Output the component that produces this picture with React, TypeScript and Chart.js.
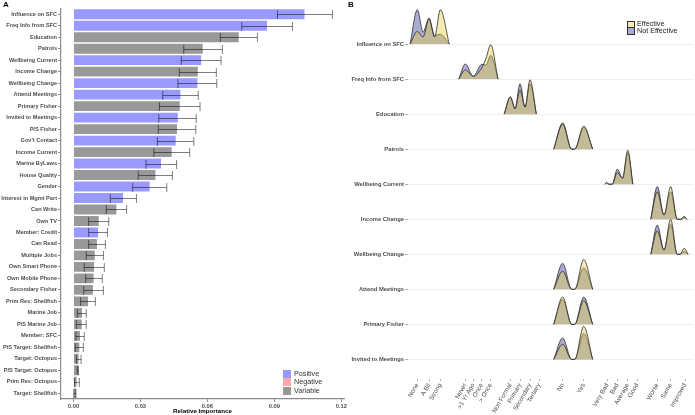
import React, { useEffect, useRef } from "react";
import { Chart, registerables } from "chart.js";
Chart.register(...registerables);
Chart.defaults.font.family = "'Liberation Sans', Arial, sans-serif";

// ---------- Panel A data ----------
const variables = [
  "Influence on SFC", "Freq Info from SFC", "Education", "Patrols", "Wellbeing Current",
  "Income Change", "Wellbeing Change", "Attend Meetings", "Primary Fisher", "Invited to Meetings",
  "P/S Fisher", "Gov't Contact", "Income Current", "Marine ByLaws", "House Quality", "Gender",
  "Interest in Mgmt Part", "Can Write", "Own TV", "Member: Credit", "Can Read", "Multiple Jobs",
  "Own Smart Phone", "Own Mobile Phone", "Secondary Fisher", "Prim Res: Shellfish", "Marine Job",
  "P/S Marine Job", "Member: SFC", "P/S Target: Shellfish", "Target: Octopus", "P/S Target: Octopus",
  "Prim Res: Octopus", "Target: Shellfish",
];
const importance = [
  0.1035, 0.0867, 0.074, 0.0579, 0.0572, 0.0557, 0.0555, 0.0479, 0.0476, 0.0467, 0.0464, 0.0458,
  0.044, 0.0392, 0.0367, 0.0341, 0.0222, 0.0192, 0.0113, 0.011, 0.0105, 0.0095, 0.0092, 0.009,
  0.0087, 0.0065, 0.0038, 0.0037, 0.0029, 0.0026, 0.0023, 0.0022, 0.0014, 0.0011,
];
const errLow = [
  0.0914, 0.0754, 0.0658, 0.0494, 0.0483, 0.0474, 0.0468, 0.04, 0.0385, 0.0382, 0.038, 0.0376,
  0.036, 0.0325, 0.029, 0.0265, 0.0165, 0.0147, 0.0068, 0.0068, 0.0068, 0.0057, 0.0048, 0.0055,
  0.0046, 0.0032, 0.0017, 0.0013, 0.0011, 0.0008, 0.0013, 0.0017, 0.0004, 0.0001,
];
const errHigh = [
  0.116, 0.0981, 0.0824, 0.0667, 0.0661, 0.064, 0.0642, 0.0559, 0.0567, 0.055, 0.0548, 0.0539,
  0.0521, 0.0462, 0.0443, 0.0418, 0.0282, 0.0238, 0.0158, 0.0152, 0.0143, 0.0134, 0.0138, 0.0129,
  0.0134, 0.0098, 0.0057, 0.0057, 0.0048, 0.0044, 0.0034, 0.0022, 0.0026, 0.0011,
];
const direction = [
  "Positive", "Positive", "Variable", "Variable", "Positive", "Variable", "Positive", "Positive",
  "Variable", "Positive", "Variable", "Positive", "Variable", "Positive", "Variable", "Positive",
  "Positive", "Variable", "Variable", "Positive", "Variable", "Variable", "Variable", "Variable",
  "Variable", "Variable", "Variable", "Variable", "Variable", "Variable", "Variable", "Variable",
  "Variable", "Variable",
];
const xTicksA = [0, 0.03, 0.06, 0.09, 0.12];
const legendA = ["Positive", "Negative", "Variable"];
const colorsA: Record<string, string> = { Positive: "#9999FF", Negative: "#FFAAAA", Variable: "#999999" };

// ---------- Panel B data ----------
const xTickLabelsB = [
  "None", "A Bit", "Strong", "Never", ">1 Yr Ago", "Once", "> Once", "Non Formal", "Primary",
  "Secondary", "Tertiary", "No", "Yes", "Very Bad", "Bad", "Average", "Good", "Worse", "Same", "Improved",
];
const xTickPosB = [
  1, 2.02, 3, 5.17, 5.87, 6.6, 7.38, 9.09, 9.93, 10.8, 11.6, 13.64, 15.47, 17.52, 18.39, 19.3,
  20.13, 21.87, 23.03, 24.28,
];
const ridgeRows = [
  "Influence on SFC", "Freq Info from SFC", "Education", "Patrols", "Wellbeing Current",
  "Income Change", "Wellbeing Change", "Attend Meetings", "Primary Fisher", "Invited to Meetings",
];
const influenceX = [0.37, 1, 1.5, 2.02, 2.5, 3, 3.78];
const influenceEff = [0, 0.36, 0.2, 0.72, 0.2, 0.98, 0];
const influenceNot = [0, 0.98, 0.34, 0.74, 0.25, 0.28, 0];
const freqX = [4.6, 5.17, 5.87, 6.6, 6.98, 7.38, 8.02];
const freqEff = [0, 0.26, 0.08, 0.32, 0.6, 0.98, 0];
const freqNot = [0, 0.43, 0.08, 0.42, 0.4, 0.68, 0];
const educationX = [8.55, 9.09, 9.5, 9.93, 10.37, 10.8, 11.35];
const educationEff = [0, 0.49, 0.15, 0.68, 0.2, 0.98, 0];
const educationNot = [0, 0.49, 0.16, 0.87, 0.2, 0.87, 0];
const yesNoX = [12.86, 13.64, 14.42, 14.69, 15.47, 16.25];
const patrolsEff = [0, 0.71, 0, 0, 0.66, 0];
const patrolsNot = [0, 0.75, 0, 0, 0.62, 0];
const wellCurX = [17.3, 17.47, 17.64, 17.95, 18.39, 18.85, 19.3, 19.74];
const wellCurEff = [0, 0.05, 0, 0, 0.33, 0.17, 0.97, 0];
const wellCurNot = [0, 0.05, 0, 0, 0.43, 0.17, 0.9, 0];
const incChX = [21.3, 21.87, 22.45, 23.03, 23.6, 23.95, 24.2, 24.45];
const incChEff = [0, 0.78, 0.12, 0.93, 0, 0, 0.08, 0];
const incChNot = [0, 0.93, 0.12, 0.78, 0, 0, 0.07, 0];
const wellChX = [21.3, 21.87, 22.45, 23.03, 23.6, 23.85, 24.2, 24.55];
const wellChEff = [0, 0.67, 0.12, 1.0, 0, 0, 0.17, 0];
const wellChNot = [0, 0.83, 0.12, 0.86, 0, 0, 0.08, 0];
const attendEff = [0, 0.52, 0, 0, 0.85, 0];
const attendNot = [0, 0.74, 0, 0, 0.61, 0];
const primaryEff = [0, 0.78, 0, 0, 0.68, 0];
const primaryNot = [0, 0.71, 0, 0, 0.78, 0];
const invitedEff = [0, 0.43, 0, 0, 0.94, 0];
const invitedNot = [0, 0.61, 0, 0, 0.74, 0];

const ridges = [
  { x: influenceX, eff: influenceEff, not: influenceNot },
  { x: freqX, eff: freqEff, not: freqNot },
  { x: educationX, eff: educationEff, not: educationNot },
  { x: yesNoX, eff: patrolsEff, not: patrolsNot },
  { x: wellCurX, eff: wellCurEff, not: wellCurNot },
  { x: incChX, eff: incChEff, not: incChNot },
  { x: wellChX, eff: wellChEff, not: wellChNot },
  { x: yesNoX, eff: attendEff, not: attendNot },
  { x: yesNoX, eff: primaryEff, not: primaryNot },
  { x: yesNoX, eff: invitedEff, not: invitedNot },
];
const legendB = ["Effective", "Not Effective"];
const colorsB: Record<string, string> = {
  Effective: "rgba(228, 208, 70, 0.42)",
  "Not Effective": "rgba(45, 45, 145, 0.4)",
};

const FONT = "'Liberation Sans', Arial, sans-serif";
const AXIS_GREY = "#8C8C8C";

const errorBarPlugin = {
  id: "errorBars",
  afterDatasetsDraw(chart: any) {
    const { ctx } = chart;
    const xs = chart.scales.x;
    const ys = chart.scales.y;
    ctx.save();
    ctx.strokeStyle = "rgba(0,0,0,0.5)";
    ctx.lineWidth = 1;
    for (let i = 0; i < importance.length; i++) {
      const y = Math.round(ys.getPixelForValue(i)) + 0.5;
      const x1 = xs.getPixelForValue(errLow[i]);
      const x2 = xs.getPixelForValue(errHigh[i]);
      ctx.beginPath();
      ctx.moveTo(x1, y);
      ctx.lineTo(x2, y);
      ctx.moveTo(x1, y - 4.5);
      ctx.lineTo(x1, y + 4.5);
      ctx.moveTo(x2, y - 4.5);
      ctx.lineTo(x2, y + 4.5);
      ctx.stroke();
    }
    ctx.restore();
  },
};

function PanelA() {
  const ref = useRef<HTMLCanvasElement>(null);
  useEffect(() => {
    const chart = new Chart(ref.current!, {
      type: "bar",
      data: {
        labels: variables,
        datasets: [
          {
            data: importance,
            backgroundColor: direction.map((d) => colorsA[d]),
            barPercentage: 0.86,
            categoryPercentage: 1,
          },
        ],
      },
      options: {
        indexAxis: "y",
        animation: false,
        responsive: false,
        maintainAspectRatio: false,
        layout: { padding: { top: 8.5, right: 11, bottom: 0, left: 0 } },
        plugins: { legend: { display: false }, tooltip: { enabled: false } },
        scales: {
          y: {
            type: "category",
            offset: true,
            grid: { display: true, drawOnChartArea: false, offset: false, tickLength: 3, color: AXIS_GREY },
            border: { display: true, color: AXIS_GREY, width: 1.2 },
            ticks: { autoSkip: false, padding: 1, color: "#4D4D4D", font: { size: 5.6, weight: "bold", family: FONT } },
            afterFit: (s: any) => { s.width = 61; },
          },
          x: {
            type: "linear",
            min: -0.0056,
            max: 0.1212,
            afterBuildTicks: (s: any) => { s.ticks = xTicksA.map((v) => ({ value: v })); },
            ticks: { callback: (v: any) => Number(v).toFixed(2), padding: 1, color: "#4D4D4D", font: { size: 5.8, weight: "bold", family: FONT } },
            grid: { display: true, drawOnChartArea: false, tickLength: 3, color: AXIS_GREY },
            border: { display: true, color: AXIS_GREY, width: 1.2 },
            title: { display: true, text: "Relative Importance", color: "#000", padding: 0, font: { size: 6.2, weight: "bold", family: FONT } },
            afterFit: (s: any) => { s.height = 16; },
          },
        },
      } as any,
      plugins: [errorBarPlugin],
    });
    return () => chart.destroy();
  }, []);
  return <canvas ref={ref} width={355} height={415} style={{ position: "absolute", left: 0, top: 0, width: 355, height: 415 }} />;
}

function PanelB() {
  const ref = useRef<HTMLCanvasElement>(null);
  useEffect(() => {
    const n = ridgeRows.length;
    const datasets: any[] = [];
    ridges.forEach((r, k) => {
      const base = n - 1 - k;
      [["Effective", r.eff], ["Not Effective", r.not]].forEach(([name, vals]: any) => {
        datasets.push({
          type: "line",
          label: name,
          data: r.x.map((x, i) => ({ x, y: base + vals[i] })),
          fill: { value: base },
          backgroundColor: colorsB[name],
          borderColor: "#2B2B2B",
          borderWidth: 0.8,
          pointRadius: 0,
          cubicInterpolationMode: "monotone",
        });
      });
    });
    const chart = new Chart(ref.current!, {
      type: "line",
      data: { datasets },
      options: {
        animation: false,
        responsive: false,
        maintainAspectRatio: false,
        layout: { padding: { top: 2, right: 1, bottom: 0, left: 0 } },
        plugins: { legend: { display: false }, tooltip: { enabled: false } },
        scales: {
          x: {
            type: "linear",
            min: 0.19,
            max: 25.06,
            afterBuildTicks: (s: any) => { s.ticks = xTickPosB.map((v) => ({ value: v })); },
            ticks: {
              autoSkip: false,
              maxRotation: 60,
              minRotation: 60,
              padding: 1,
              color: "#4D4D4D",
              font: { size: 6.3, family: FONT },
              callback: (_v: any, i: number) => xTickLabelsB[i],
            },
            grid: { display: true, drawOnChartArea: false, tickLength: 2, color: "#B0B0B0" },
            border: { display: false },
            afterFit: (s: any) => { s.height = 36; },
          },
          y: {
            type: "linear",
            min: -0.56,
            max: 10.13,
            afterBuildTicks: (s: any) => { s.ticks = ridgeRows.map((_, i) => ({ value: i })); },
            ticks: {
              autoSkip: false,
              padding: 1,
              color: "#4D4D4D",
              font: { size: 5.8, weight: "bold", family: FONT },
              callback: (v: any) => ridgeRows[n - 1 - Math.round(v)],
            },
            grid: { color: "#EBEBEB", lineWidth: 0.8, tickLength: 3, tickColor: "#9A9A9A" },
            border: { display: false },
            afterFit: (s: any) => { s.width = 63; },
          },
        },
      } as any,
    });
    return () => chart.destroy();
  }, []);
  return <canvas ref={ref} width={350} height={415} style={{ position: "absolute", left: 345, top: 0, width: 350, height: 415 }} />;
}

export default function App() {
  const txt: React.CSSProperties = { position: "absolute", fontFamily: FONT, whiteSpace: "nowrap", lineHeight: 1 };
  return (
    <div style={{ position: "fixed", left: 0, top: 0, width: 695, height: 415, background: "#fff", overflow: "hidden" }}>
      <PanelA />
      <PanelB />
      <div style={{ ...txt, left: 3, top: 1, fontSize: 8, fontWeight: "bold" }}>A</div>
      <div style={{ ...txt, left: 348, top: 1, fontSize: 8, fontWeight: "bold" }}>B</div>
      {legendA.map((name, i) => (
        <React.Fragment key={name}>
          <div style={{ position: "absolute", left: 283, top: 369.5 + i * 8.5, width: 7.5, height: 8, background: colorsA[name] }} />
          <div style={{ ...txt, left: 294, top: 369.8 + i * 8.5, fontSize: 7.2, color: "#333" }}>{name}</div>
        </React.Fragment>
      ))}
      {legendB.map((name, i) => (
        <React.Fragment key={name}>
          <div style={{ position: "absolute", left: 627, top: 20.5 + i * 6.7, width: 5.5, height: 5.5, background: colorsB[name], border: "0.6px solid #333" }} />
          <div style={{ ...txt, left: 637, top: 20.3 + i * 6.7, fontSize: 7.2, color: "#222" }}>{name}</div>
        </React.Fragment>
      ))}
    </div>
  );
}
